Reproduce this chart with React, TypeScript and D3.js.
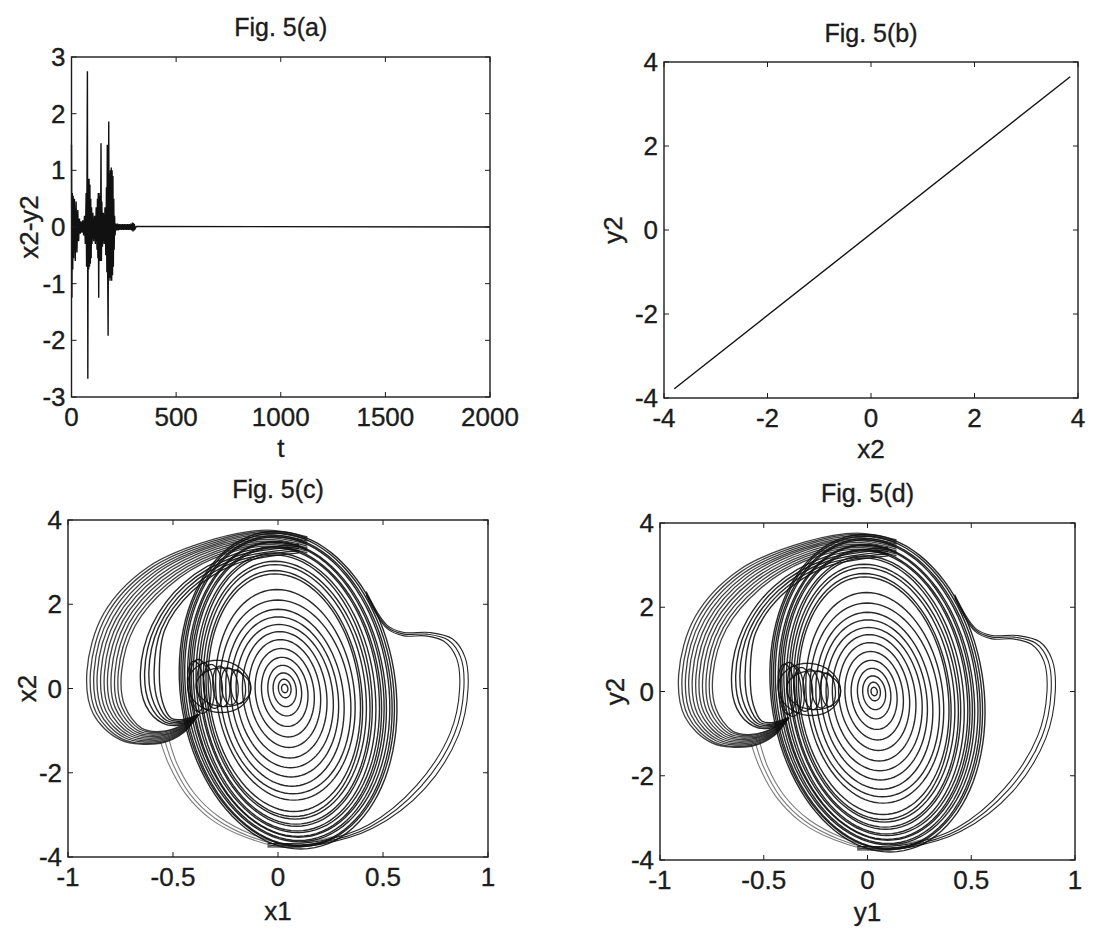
import React from 'react';
import * as d3 from 'd3';

// Fig. 5(a): x2-y2 vs t, envelope samples [t, value]
const errSamples: [number, number][] = [
  [0, 1.45], [2, -1.25], [4, 0.6], [6, -0.75], [8, 0.55], [10, -0.55], [14, 0.5], [18, -0.6],
  [22, 0.45], [26, -0.45], [30, 0.3], [34, -0.25], [38, 0.15], [42, -0.12], [46, 0.1], [50, -0.1],
  [54, 0.12], [58, -0.15], [62, 0.2], [66, -0.3], [70, 0.6], [72, -0.7], [74, 0.8], [76, 2.75],
  [78, -2.68], [80, 0.85], [82, -0.75], [84, 0.85], [86, -0.7], [88, 0.75], [90, -0.65], [92, 0.5],
  [94, -0.55], [96, 0.35], [98, -0.3], [102, 0.25], [106, -0.25], [110, 0.2], [114, -0.3], [118, 0.35],
  [122, -0.4], [124, 0.5], [126, -0.55], [128, 0.6], [130, -1.25], [132, 0.6], [134, -0.6], [136, 0.55],
  [138, -0.6], [140, 0.65], [141, 1.48], [143, -0.6], [145, 0.45], [148, -0.35], [152, 0.25], [156, -0.3],
  [160, 0.35], [164, -0.5], [167, 0.7], [169, -0.8], [171, 1.45], [173, -0.85], [175, -1.92], [177, 0.9],
  [178, 1.86], [180, -0.9], [182, 0.95], [184, -0.95], [186, 1.0], [188, -0.9], [190, 1.05], [192, -0.95],
  [194, 1.0], [196, -0.85], [198, 0.9], [200, -0.7], [202, 0.5], [204, -0.4], [206, 0.2], [208, -0.15],
  [212, 0.06], [216, -0.06], [220, 0.06], [224, -0.06], [228, 0.05], [232, -0.05], [236, 0.05], [240, -0.05],
  [244, 0.05], [248, -0.05], [252, 0.05], [256, -0.05], [260, 0.05], [264, -0.05], [268, 0.05], [272, -0.05],
  [276, 0.05], [280, -0.05], [284, 0.06], [288, -0.06], [292, 0.08], [294, -0.08], [296, 0.07], [298, -0.06],
  [300, 0.05], [304, -0.03], [310, 0.01], [2000, 0],
];

// Fig. 5(b): y2 against x2, end points of the diagonal
const syncX2 = [-3.8, 3.85];
const syncY2 = [-3.78, 3.65];

// Fig. 5(c)/(d): attractor, nested rings [cx, cy, rx, ry]
const ringLoops = [
  [0.048, -0.04, 0.515, 3.77], [0.046, -0.03, 0.505, 3.72], [0.045, -0.05, 0.495, 3.68],
  [0.044, -0.02, 0.485, 3.62], [0.043, -0.06, 0.47, 3.55], [0.042, -0.03, 0.46, 3.5],
  [0.04, -0.07, 0.45, 3.44], [0.04, -0.04, 0.44, 3.38], [0.038, -0.08, 0.425, 3.3],
  [0.036, -0.05, 0.41, 3.22], [0.035, -0.1, 0.4, 3.12], [0.033, -0.08, 0.385, 3.02],
  [0.03, -0.12, 0.37, 2.92], [0.03, -0.1, 0.36, 2.82],
  [0.035, -0.15, 0.33, 2.5], [0.035, -0.2, 0.31, 2.3], [0.033, -0.22, 0.28, 2.1],
  [0.032, -0.2, 0.255, 1.9], [0.032, -0.18, 0.23, 1.7], [0.032, -0.15, 0.2, 1.5],
  [0.032, -0.12, 0.17, 1.28], [0.032, -0.1, 0.14, 1.05], [0.032, -0.08, 0.11, 0.82],
  [0.032, -0.05, 0.08, 0.6], [0.032, -0.03, 0.055, 0.4], [0.032, 0.0, 0.03, 0.22], [0.032, 0.0, 0.015, 0.1],
];

// small vertical loops between x1 = -0.43 and -0.15 (the "bow-tie")
const eyeLoops = [
  [-0.39, 0.05, 0.04, 0.6], [-0.37, 0.05, 0.05, 0.64], [-0.345, 0.05, 0.04, 0.56],
  [-0.31, 0.05, 0.045, 0.52], [-0.27, 0.05, 0.04, 0.48], [-0.23, 0.05, 0.04, 0.44],
  [-0.19, 0.04, 0.035, 0.4], [-0.28, 0.05, 0.15, 0.62], [-0.26, 0.03, 0.13, 0.46],
];

// outer left crescent (band A)
const lobeA = [
  [[0.14, 3.6], [-0.05, 3.76], [-0.3, 3.55], [-0.62, 2.88], [-0.83, 1.78], [-0.91, 0.4], [-0.88, -0.6], [-0.75, -1.22], [-0.56, -1.3], [-0.45, -1.05], [-0.38, -0.62]],
  [[0.14, 3.57], [-0.05, 3.73], [-0.3, 3.51], [-0.61, 2.84], [-0.815, 1.75], [-0.893, 0.4], [-0.865, -0.58], [-0.74, -1.2], [-0.56, -1.28], [-0.45, -1.03], [-0.38, -0.62]],
  [[0.14, 3.54], [-0.05, 3.7], [-0.3, 3.47], [-0.6, 2.8], [-0.8, 1.72], [-0.876, 0.4], [-0.85, -0.56], [-0.73, -1.17], [-0.56, -1.25], [-0.45, -1.01], [-0.38, -0.62]],
  [[0.14, 3.5], [-0.05, 3.66], [-0.3, 3.43], [-0.59, 2.76], [-0.785, 1.69], [-0.86, 0.4], [-0.835, -0.54], [-0.72, -1.14], [-0.56, -1.22], [-0.45, -0.99], [-0.38, -0.62]],
  [[0.14, 3.46], [-0.05, 3.62], [-0.3, 3.39], [-0.58, 2.72], [-0.77, 1.66], [-0.843, 0.4], [-0.82, -0.52], [-0.71, -1.11], [-0.56, -1.19], [-0.45, -0.97], [-0.38, -0.62]],
  [[0.14, 3.42], [-0.05, 3.58], [-0.3, 3.35], [-0.57, 2.67], [-0.755, 1.63], [-0.826, 0.4], [-0.805, -0.5], [-0.7, -1.08], [-0.56, -1.16], [-0.45, -0.95], [-0.38, -0.62]],
  [[0.14, 3.38], [-0.05, 3.54], [-0.3, 3.3], [-0.56, 2.62], [-0.74, 1.6], [-0.81, 0.4], [-0.79, -0.48], [-0.69, -1.05], [-0.56, -1.13], [-0.45, -0.93], [-0.38, -0.62]],
  [[0.14, 3.34], [-0.05, 3.5], [-0.3, 3.25], [-0.55, 2.57], [-0.725, 1.57], [-0.793, 0.4], [-0.775, -0.46], [-0.68, -1.02], [-0.56, -1.1], [-0.45, -0.91], [-0.38, -0.62]],
  [[0.14, 3.3], [-0.05, 3.46], [-0.3, 3.2], [-0.54, 2.52], [-0.71, 1.54], [-0.776, 0.4], [-0.76, -0.44], [-0.67, -0.99], [-0.56, -1.07], [-0.45, -0.89], [-0.38, -0.62]],
  [[0.14, 3.26], [-0.05, 3.42], [-0.3, 3.15], [-0.53, 2.47], [-0.695, 1.51], [-0.76, 0.4], [-0.745, -0.42], [-0.66, -0.96], [-0.56, -1.04], [-0.45, -0.87], [-0.38, -0.62]],
  [[0.14, 3.22], [-0.05, 3.38], [-0.3, 3.1], [-0.52, 2.43], [-0.68, 1.49], [-0.745, 0.4], [-0.73, -0.41], [-0.65, -0.94], [-0.56, -1.02], [-0.45, -0.86], [-0.38, -0.62]],
];

// inner left crescent (band B)
const lobeB = [
  [[0.1, 3.42], [-0.2, 3.2], [-0.45, 2.5], [-0.6, 1.5], [-0.655, 0.4], [-0.63, -0.4], [-0.55, -0.82], [-0.46, -0.86], [-0.38, -0.62]],
  [[0.1, 3.37], [-0.2, 3.14], [-0.44, 2.45], [-0.585, 1.47], [-0.635, 0.4], [-0.61, -0.38], [-0.54, -0.79], [-0.46, -0.83], [-0.38, -0.62]],
  [[0.1, 3.32], [-0.2, 3.08], [-0.43, 2.4], [-0.57, 1.44], [-0.615, 0.4], [-0.59, -0.36], [-0.53, -0.76], [-0.46, -0.8], [-0.38, -0.62]],
  [[0.1, 3.27], [-0.2, 3.02], [-0.42, 2.35], [-0.555, 1.41], [-0.59, 0.4], [-0.57, -0.34], [-0.52, -0.73], [-0.46, -0.77], [-0.38, -0.62]],
  [[0.1, 3.22], [-0.2, 2.96], [-0.41, 2.3], [-0.54, 1.38], [-0.565, 0.4], [-0.55, -0.32], [-0.51, -0.7], [-0.46, -0.74], [-0.38, -0.62]],
];

// faint arcs below the left crescent
const lowerArcs = [
  [[-0.56, -1.25], [-0.52, -1.8], [-0.44, -2.5], [-0.32, -3.1], [-0.16, -3.52], [0.05, -3.78], [0.28, -3.6]],
  [[-0.54, -1.22], [-0.5, -1.8], [-0.42, -2.5], [-0.3, -3.08], [-0.14, -3.5], [0.05, -3.74], [0.27, -3.56]],
  [[-0.52, -1.19], [-0.48, -1.8], [-0.4, -2.48], [-0.28, -3.05], [-0.12, -3.47], [0.05, -3.7], [0.26, -3.52]],
];

// right-hand lobe
const lobeR = [
  [[-0.05, -3.76], [0.2, -3.7], [0.45, -3.32], [0.7, -2.37], [0.86, -1.1], [0.905, 0.0], [0.89, 0.75], [0.83, 1.18], [0.72, 1.33], [0.6, 1.33], [0.52, 1.5], [0.42, 2.3]],
  [[-0.05, -3.72], [0.2, -3.66], [0.44, -3.28], [0.68, -2.33], [0.84, -1.08], [0.885, 0.0], [0.87, 0.74], [0.81, 1.15], [0.71, 1.29], [0.6, 1.29], [0.52, 1.46], [0.42, 2.26]],
  [[-0.05, -3.68], [0.2, -3.62], [0.43, -3.24], [0.66, -2.3], [0.82, -1.06], [0.865, 0.0], [0.85, 0.72], [0.79, 1.12], [0.7, 1.25], [0.6, 1.25], [0.52, 1.42], [0.42, 2.22]],
];

const ringShear = -0.016;

const FONT = '"Liberation Sans", Arial, Helvetica, sans-serif';
const INK = '#1c1c1c';

type Box = { x0: number; x1: number; y0: number; y1: number };

const fmt = (v: number) => String(v);

function Frame({ box, sx, sy, xTicks, yTicks, title, titleY, xLabel, xLabelY, yLabel, yLabelX }: any) {
  const tl = 5;
  return (
    <g fontFamily={FONT} fill={INK} stroke={INK} strokeWidth={0.35}>
      <rect x={box.x0} y={box.y0} width={box.x1 - box.x0} height={box.y1 - box.y0} fill="none" stroke={INK} strokeWidth={1.4} />
      {xTicks.map((t: number) => (
        <g key={'x' + t}>
          <line x1={sx(t)} x2={sx(t)} y1={box.y1} y2={box.y1 - tl} strokeWidth={1} />
          <line x1={sx(t)} x2={sx(t)} y1={box.y0} y2={box.y0 + tl} strokeWidth={1} />
          <text x={sx(t)} y={box.y1 + 29} textAnchor="middle" fontSize={26}>{fmt(t)}</text>
        </g>
      ))}
      {yTicks.map((t: number) => (
        <g key={'y' + t}>
          <line x1={box.x0} x2={box.x0 + tl} y1={sy(t)} y2={sy(t)} strokeWidth={1} />
          <line x1={box.x1} x2={box.x1 - tl} y1={sy(t)} y2={sy(t)} strokeWidth={1} />
          <text x={box.x0 - 6} y={sy(t) + 9} textAnchor="end" fontSize={26}>{fmt(t)}</text>
        </g>
      ))}
      <text x={(box.x0 + box.x1) / 2} y={titleY} textAnchor="middle" fontSize={25}>{title}</text>
      <text x={(box.x0 + box.x1) / 2} y={xLabelY} textAnchor="middle" fontSize={26}>{xLabel}</text>
      <text transform={`translate(${yLabelX},${(box.y0 + box.y1) / 2}) rotate(-90)`} textAnchor="middle" fontSize={26}>{yLabel}</text>
    </g>
  );
}

function Attractor({ box, title, titleY, xLabel, xLabelY, yLabel, yLabelX }: any) {
  const sx = d3.scaleLinear().domain([-1, 1]).range([box.x0, box.x1]);
  const sy = d3.scaleLinear().domain([-4, 4]).range([box.y1, box.y0]);
  const ellipse = ([cx, cy, rx, ry]: number[]) => {
    const pts = d3.range(0, 97).map((i) => {
      const a = (i / 96) * Math.PI * 2;
      const dy = ry * Math.sin(a);
      return [sx(cx + rx * Math.cos(a) + ringShear * dy), sy(cy + dy)] as [number, number];
    });
    return d3.line()(pts) + 'Z';
  };
  const curve = d3.line<number[]>().x((d) => sx(d[0])).y((d) => sy(d[1])).curve(d3.curveCatmullRom.alpha(0.5));
  return (
    <g>
      <g fill="none" stroke="#111" strokeWidth={1.4} strokeOpacity={0.9}>
        {ringLoops.map((r, i) => <path key={'r' + i} d={ellipse(r)} />)}
        {eyeLoops.map((r, i) => <path key={'e' + i} d={ellipse(r)} strokeWidth={1.3} />)}
        {lobeA.map((c, i) => <path key={'a' + i} d={curve(c) || ''} strokeWidth={1.3} strokeOpacity={0.8} />)}
        {lobeB.map((c, i) => <path key={'b' + i} d={curve(c) || ''} />)}
        {lobeR.map((c, i) => <path key={'R' + i} d={curve(c) || ''} strokeWidth={1.1} />)}
        {lowerArcs.map((c, i) => <path key={'l' + i} d={curve(c) || ''} strokeOpacity={0.55} strokeWidth={1.1} />)}
      </g>
      <Frame box={box} sx={sx} sy={sy} xTicks={[-1, -0.5, 0, 0.5, 1]} yTicks={[-4, -2, 0, 2, 4]}
        title={title} titleY={titleY} xLabel={xLabel} xLabelY={xLabelY} yLabel={yLabel} yLabelX={yLabelX} />
    </g>
  );
}

export default function App() {
  const boxA: Box = { x0: 71.5, x1: 490, y0: 57, y1: 397 };
  const sxA = d3.scaleLinear().domain([0, 2000]).range([boxA.x0, boxA.x1]);
  const syA = d3.scaleLinear().domain([-3, 3]).range([boxA.y1, boxA.y0]);
  const errLine = d3.line<[number, number]>().x((d) => sxA(d[0])).y((d) => syA(d[1]));

  const boxB: Box = { x0: 664, x1: 1078, y0: 62, y1: 398 };
  const sxB = d3.scaleLinear().domain([-4, 4]).range([boxB.x0, boxB.x1]);
  const syB = d3.scaleLinear().domain([-4, 4]).range([boxB.y1, boxB.y0]);
  const diag = syncX2.map((v, i) => [sxB(v), syB(syncY2[i])] as [number, number]);

  const boxC: Box = { x0: 68, x1: 488, y0: 520, y1: 857 };
  const boxD: Box = { x0: 660, x1: 1075, y0: 523, y1: 860 };

  return (
    <svg width={1105} height={928} style={{ position: 'absolute', left: 0, top: 0, background: '#fff' }}>
      <path d={errLine(errSamples) || ''} fill="none" stroke="#111" strokeWidth={1.4} />
      <Frame box={boxA} sx={sxA} sy={syA} xTicks={[0, 500, 1000, 1500, 2000]} yTicks={[-3, -2, -1, 0, 1, 2, 3]}
        title="Fig. 5(a)" titleY={36} xLabel="t" xLabelY={457} yLabel="x2-y2" yLabelX={38} />

      <path d={d3.line()(diag) || ''} fill="none" stroke="#111" strokeWidth={1.4} />
      <Frame box={boxB} sx={sxB} sy={syB} xTicks={[-4, -2, 0, 2, 4]} yTicks={[-4, -2, 0, 2, 4]}
        title="Fig. 5(b)" titleY={42} xLabel="x2" xLabelY={458} yLabel="y2" yLabelX={622} />

      <Attractor box={boxC} title="Fig. 5(c)" titleY={498} xLabel="x1" xLabelY={920} yLabel="x2" yLabelX={36} />
      <Attractor box={boxD} title="Fig. 5(d)" titleY={502} xLabel="y1" xLabelY={921} yLabel="y2" yLabelX={624} />
    </svg>
  );
}
